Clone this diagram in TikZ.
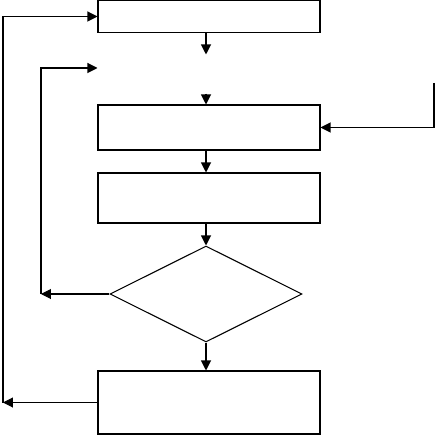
\documentclass[tikz,border=0pt]{standalone}
\usetikzlibrary{shapes.geometric, arrows.meta}
\begin{document}
\begin{tikzpicture}[x=0.02cm, y=-0.02cm, line width=0.6pt, >={Triangle[length=2mm, width=2mm]}]
  \tikzset{blk/.style={draw, minimum width=4.44cm, inner sep=0pt}}
  \useasboundingbox (0,0) rectangle (435,435);
  % ---------------- boxes (pixel grid, 0.02 cm per unit)
  \node[blk, minimum height=0.63cm] (init) at (209,16.5) {};
  \node[minimum width=4.44cm, minimum height=0.76cm, inner sep=0pt] (blank) at (209,74) {};
  \node[blk, minimum height=0.9cm] (upd) at (209,127.5) {};
  \node[blk, minimum height=1cm] (eval) at (209,198) {};
  \node[draw, diamond, minimum width=3.84cm, minimum height=1.92cm, inner sep=0pt] (test) at (206,294) {};
  \node[blk, minimum height=1.26cm] (out) at (209,402.5) {};
  % ---------------- main flow
  \draw[->] (init.south -| test) -- (blank.north -| test);
  \draw[->] (blank.south -| test) -- (upd.north -| test);
  \draw[->] (upd.south -| test) -- (eval.north -| test);
  \draw[->] (eval.south -| test) -- (test.north);
  \draw[->] (test.south) -- (out.north -| test);
  % ---------------- loops
  \coordinate (inner) at (41,294);
  \coordinate (innertop) at (41,68);
  \draw[->] (test.west) -- (inner);
  \draw[->] (inner) -- (innertop) -- (innertop -| blank.west);
  \coordinate (outer) at (3,15);
  \draw[->] (out.west) -- (out.west -| outer);
  \draw[->] (out.west -| outer) |- (init.west);
  \coordinate (ext) at (434,83);
  \draw[->] (ext) |- (upd.east);
\end{tikzpicture}
\end{document}
